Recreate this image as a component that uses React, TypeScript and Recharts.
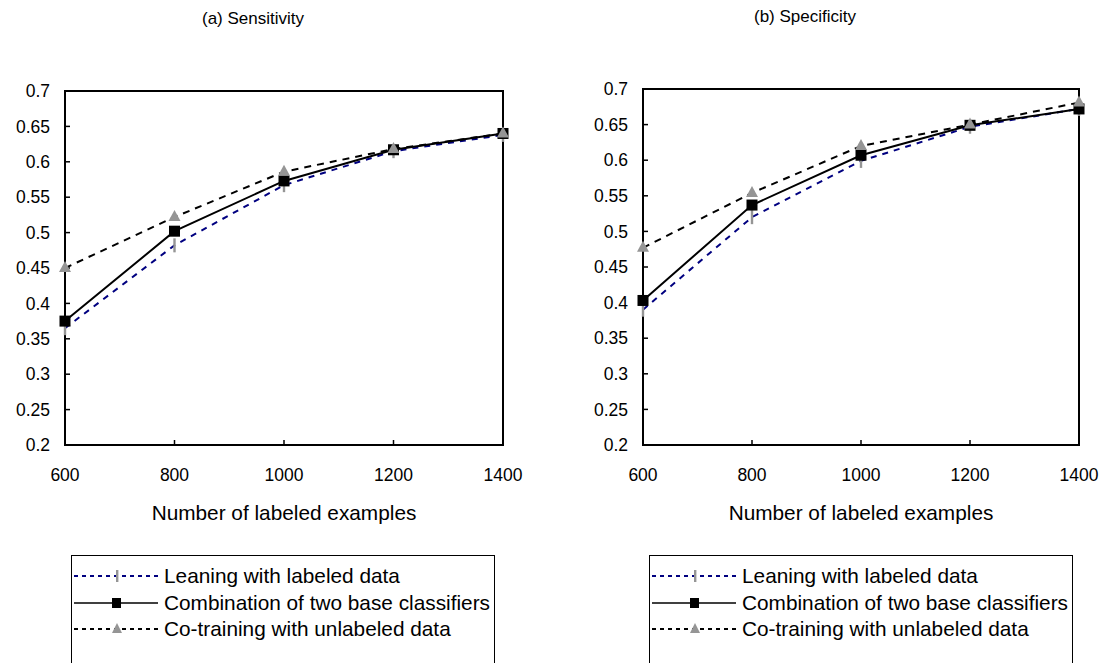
import React from 'react';
import { LineChart, Line, XAxis, YAxis, ReferenceArea, Legend } from 'recharts';

const xValues = [600, 800, 1000, 1200, 1400];
const yTicks = [0.2, 0.25, 0.3, 0.35, 0.4, 0.45, 0.5, 0.55, 0.6, 0.65, 0.7];

const sensLeaning = [0.365, 0.482, 0.567, 0.615, 0.638];
const sensCombination = [0.375, 0.502, 0.573, 0.617, 0.640];
const sensCoTraining = [0.450, 0.522, 0.586, 0.618, 0.640];

const specLeaning = [0.390, 0.520, 0.599, 0.647, 0.672];
const specCombination = [0.403, 0.537, 0.607, 0.649, 0.672];
const specCoTraining = [0.477, 0.554, 0.620, 0.650, 0.681];

const seriesNames = [
  'Leaning with labeled data',
  'Combination of two base classifiers',
  'Co-training with unlabeled data',
];

const FONT = '"Liberation Sans", Arial, sans-serif';
const NARROW = '"Liberation Sans Narrow", "Liberation Sans", Arial, sans-serif';
const GREY = '#959595';
const NAVY = '#000080';

const LeanDot = (p: any) => {
  const { cx, cy } = p;
  if (cx == null || cy == null) return null;
  return <rect x={cx - 1.2} y={cy - 7} width={2.4} height={14} fill={GREY} />;
};
const SquareDot = (p: any) => {
  const { cx, cy } = p;
  if (cx == null || cy == null) return null;
  return <rect x={cx - 5.5} y={cy - 5.5} width={11} height={11} fill="#000" />;
};
const TriDot = (p: any) => {
  const { cx, cy } = p;
  if (cx == null || cy == null) return null;
  return <path d={`M${cx},${cy - 7} L${cx + 6},${cy + 4} L${cx - 6},${cy + 4} Z`} fill={GREY} />;
};

const LegendBox = () => {
  const rowStyle: React.CSSProperties = { display: 'flex', alignItems: 'center', height: 26.5, whiteSpace: 'nowrap' };
  return (
    <div
      style={{
        width: 424,
        height: 120,
        border: '1.5px solid #000',
        boxSizing: 'border-box',
        paddingTop: 7,
        fontFamily: FONT,
        fontSize: 20.8,
        color: '#000',
        background: '#fff',
      }}
    >
      <div style={rowStyle}>
        <svg width={92} height={20} style={{ flex: 'none' }}>
          <line x1={2} y1={10} x2={86} y2={10} stroke={NAVY} strokeWidth={2} strokeDasharray="4 4" />
          <rect x={44} y={4} width={2.4} height={12} fill={GREY} />
        </svg>
        <span>{seriesNames[0]}</span>
      </div>
      <div style={rowStyle}>
        <svg width={92} height={20} style={{ flex: 'none' }}>
          <line x1={2} y1={10} x2={86} y2={10} stroke="#000" strokeWidth={1.5} />
          <rect x={40} y={5} width={9} height={10} fill="#000" />
        </svg>
        <span>{seriesNames[1]}</span>
      </div>
      <div style={rowStyle}>
        <svg width={92} height={20} style={{ flex: 'none' }}>
          <line x1={2} y1={10} x2={86} y2={10} stroke="#000" strokeWidth={2} strokeDasharray="4 4" />
          <path d="M45,4 L50,14 L40,14 Z" fill={GREY} />
        </svg>
        <span>{seriesNames[2]}</span>
      </div>
    </div>
  );
};

function Panel({ lean, comb, cot, top, right }: { lean: number[]; comb: number[]; cot: number[]; top: number; right: number }) {
  const data = xValues.map((x, i) => ({ x, lean: lean[i], comb: comb[i], cot: cot[i] }));
  return (
    <LineChart width={540} height={663} data={data} margin={{ top, right, left: 0, bottom: 138 }}>
      <ReferenceArea x1={600} x2={1400} y1={0.2} y2={0.7} fill="none" stroke="#000" strokeWidth={2} ifOverflow="visible" />
      <XAxis
        type="number"
        dataKey="x"
        domain={[600, 1400]}
        ticks={xValues}
        height={80}
        tickSize={-5}
        tickMargin={29}
        axisLine={{ stroke: '#000', strokeWidth: 2 }}
        tickLine={{ stroke: '#000', strokeWidth: 1.5 }}
        tick={{ fill: '#000', fontSize: 17.5, fontFamily: FONT }}
        label={{ value: 'Number of labeled examples', position: 'insideBottom', offset: 5, fill: '#000', fontSize: 20.8, fontFamily: FONT }}
      />
      <YAxis
        type="number"
        domain={[0.2, 0.7]}
        ticks={yTicks}
        width={65}
        tickSize={-5}
        tickMargin={20}
        tickFormatter={(v: number) => String(v)}
        axisLine={{ stroke: '#000', strokeWidth: 2 }}
        tickLine={{ stroke: '#000', strokeWidth: 1.5 }}
        tick={{ fill: '#000', fontSize: 17.5, fontFamily: FONT }}
      />
      <Line dataKey="lean" stroke={NAVY} strokeWidth={2} strokeDasharray="6 6" dot={<LeanDot />} isAnimationActive={false} />
      <Line dataKey="comb" stroke="#000" strokeWidth={2} dot={<SquareDot />} isAnimationActive={false} />
      <Line dataKey="cot" stroke="#000" strokeWidth={2} strokeDasharray="7 6" dot={<TriDot />} isAnimationActive={false} />
      <Legend
        layout="vertical"
        align="center"
        verticalAlign="middle"
        content={() => <LegendBox />}
        wrapperStyle={{ position: 'absolute', left: 71, top: 555, width: 424, height: 120 }}
      />
    </LineChart>
  );
}

export default function App() {
  return (
    <div style={{ position: 'absolute', left: 0, top: 0, width: 1103, height: 663, background: '#fff', overflow: 'hidden', fontFamily: FONT }}>
      <div style={{ position: 'absolute', left: 153, top: 9, width: 200, textAlign: 'center', fontFamily: NARROW, fontSize: 17 }}>(a) Sensitivity</div>
      <div style={{ position: 'absolute', left: 705, top: 7, width: 200, textAlign: 'center', fontFamily: NARROW, fontSize: 17 }}>(b) Specificity</div>
      <div style={{ position: 'absolute', left: 0, top: 0 }}>
        <Panel lean={sensLeaning} comb={sensCombination} cot={sensCoTraining} top={91} right={37} />
      </div>
      <div style={{ position: 'absolute', left: 578, top: 0 }}>
        <Panel lean={specLeaning} comb={specCombination} cot={specCoTraining} top={89} right={39} />
      </div>
    </div>
  );
}
